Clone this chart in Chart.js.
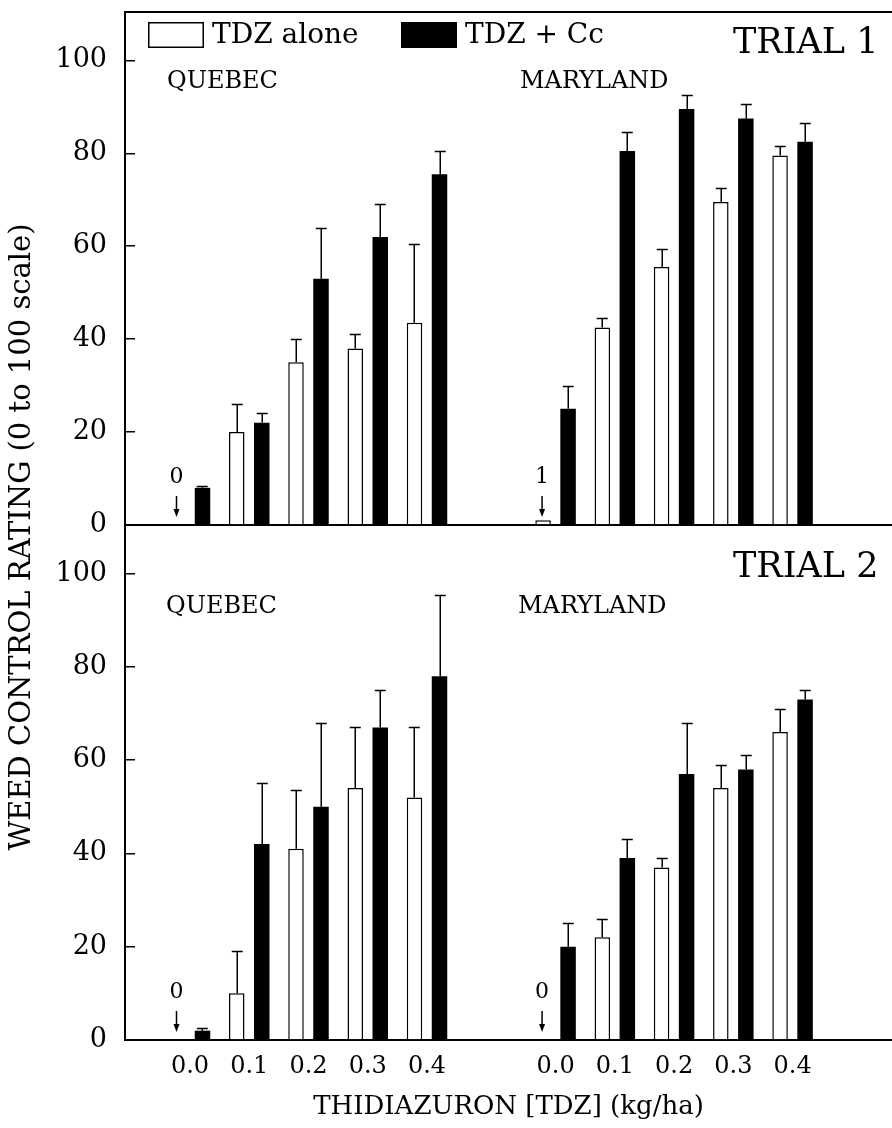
<!DOCTYPE html>
<html><head><meta charset="utf-8">
<script src="https://cdn.jsdelivr.net/npm/chart.js@4.4.0/dist/chart.umd.min.js"></script>
<style>
html,body{margin:0;padding:0;background:#fff;}
#wrap{position:relative;width:892px;height:1128px;overflow:hidden;background:#fff;}
canvas{position:absolute;left:0;top:0;}
</style></head><body>
<div id="wrap"><canvas id="c1" width="892" height="1128"></canvas><canvas id="c2" width="892" height="1128"></canvas></div>
<script>
// ---------- data ----------
const doses = ['0.0', '0.1', '0.2', '0.3', '0.4'];
const regions = ['QUEBEC', 'MARYLAND'];
const seriesNames = ['TDZ alone', 'TDZ + Cc'];
const trialNames = ['TRIAL 1', 'TRIAL 2'];
const yTickValues = [0, 20, 40, 60, 80, 100];
const xTitle = 'THIDIAZURON [TDZ] (kg/ha)';
const yTitle = 'WEED CONTROL RATING (0 to 100 scale)';

// Trial 1
const t1QuebecAlone   = [0, 20, 35, 38, 43.5];
const t1QuebecCc      = [8, 22, 53, 62, 75.5];
const t1MarylandAlone = [1, 42.5, 55.5, 69.5, 79.5];
const t1MarylandCc    = [25, 80.5, 89.5, 87.5, 82.5];
const t1QuebecAloneSE   = [0, 6, 5, 3, 17];
const t1QuebecCcSE      = [0.5, 2, 11, 7, 5];
const t1MarylandAloneSE = [0, 2, 4, 3, 2];
const t1MarylandCcSE    = [5, 4, 3, 3, 4];

// Trial 2
const t2QuebecAlone   = [0, 10, 41, 54, 52];
const t2QuebecCc      = [2, 42, 50, 67, 78];
const t2MarylandAlone = [0, 22, 37, 54, 66];
const t2MarylandCc    = [20, 39, 57, 58, 73];
const t2QuebecAloneSE   = [0, 9, 12.5, 13, 15];
const t2QuebecCcSE      = [0.5, 13, 18, 8, 17.5];
const t2MarylandAloneSE = [0, 4, 2, 5, 5];
const t2MarylandCcSE    = [5, 4, 11, 3, 2];

// ---------- layout constants ----------
const REGION_OFFSET = 6.17;   // x offset (in dose-steps) of the Maryland group
const X_MIN = -1.097, X_MAX = 11.848, Y_MAX = 110.4;
const FONT = "'DejaVu Serif', serif";

Chart.defaults.font.family = FONT;
Chart.defaults.color = '#000';

const xPositions = [];
const xTickLabels = [];
regions.forEach((r, ri) => doses.forEach((d, di) => { xPositions.push(di + ri * REGION_OFFSET); xTickLabels.push(d); }));

function points(arrs) {
  const out = [];
  arrs.forEach((a, ri) => a.forEach((v, di) => out.push({x: di + ri * REGION_OFFSET, y: v})));
  return out;
}

const decor = {
  id: 'decor',
  afterDatasetsDraw(chart, args, o) {
    const ctx = chart.ctx, ca = chart.chartArea, ys = chart.scales.y;
    ctx.save();
    // error bars
    ctx.strokeStyle = '#000'; ctx.lineWidth = 1.5;
    chart.data.datasets.forEach((ds, di) => {
      const meta = chart.getDatasetMeta(di);
      meta.data.forEach((bar, i) => {
        const se = ds.errors[i];
        if (!se) return;
        const v = ds.data[i].y;
        const yTop = Math.round(ys.getPixelForValue(v + se)) + 0.5;
        const yBase = ys.getPixelForValue(v);
        const bx = Math.round(bar.x) + 0.25;
        ctx.beginPath();
        ctx.moveTo(bx, yBase); ctx.lineTo(bx, yTop);
        ctx.moveTo(bx - 5.5, yTop); ctx.lineTo(bx + 5.5, yTop);
        ctx.stroke();
      });
    });
    // value markers for near-zero bars
    const zero = ys.getPixelForValue(0);
    const wmeta = chart.getDatasetMeta(0);
    const wds = chart.data.datasets[0];
    ctx.fillStyle = '#000';
    wds.data.forEach((p, i) => {
      if (i % doses.length !== 0 || p.y > 1) return;
      const bx = wmeta.data[i].x - 1;
      ctx.font = '22px ' + FONT;
      ctx.textAlign = 'center'; ctx.textBaseline = 'alphabetic';
      ctx.fillText(String(p.y), bx, zero - 42);
      ctx.lineWidth = 1.5;
      ctx.beginPath(); ctx.moveTo(bx, zero - 29); ctx.lineTo(bx, zero - 14); ctx.stroke();
      ctx.beginPath(); ctx.moveTo(bx - 3, zero - 16); ctx.lineTo(bx + 3, zero - 16); ctx.lineTo(bx, zero - 8); ctx.closePath(); ctx.fill();
    });
    // region labels
    ctx.font = '24px ' + FONT;
    ctx.textAlign = 'left'; ctx.textBaseline = 'alphabetic';
    regions.forEach((r, ri) => ctx.fillText(r, ca.left + o.regionX[ri], ca.top + o.regionBaseline));
    // trial label
    ctx.font = '35px ' + FONT;
    ctx.fillText(o.trial, ca.left + 608, ca.top + o.trialBaseline);
    // legend
    if (o.legend) {
      chart.data.datasets.forEach((ds, di) => {
        const lx = ca.left + [23, 276][di], ly = ca.top + 10;
        ctx.fillStyle = ds.backgroundColor;
        ctx.fillRect(lx, ly, 56, 26);
        if (ds.borderWidth) { ctx.lineWidth = 1.5; ctx.strokeStyle = '#000'; ctx.strokeRect(lx + 0.75, ly + 0.75, 54.5, 24.5); }
        ctx.fillStyle = '#000';
        ctx.font = '28px ' + FONT;
        ctx.fillText(ds.label, lx + 64, ca.top + 31);
      });
    }
    // top frame line
    if (o.topLine) {
      ctx.lineWidth = 2; ctx.strokeStyle = '#000';
      ctx.beginPath(); ctx.moveTo(ca.left, ca.top); ctx.lineTo(ca.right, ca.top); ctx.stroke();
    }
    // shared y title
    if (o.yTitle) {
      ctx.save();
      ctx.translate(22, 537); ctx.rotate(-Math.PI / 2);
      ctx.font = '29px ' + FONT; ctx.textAlign = 'center'; ctx.textBaseline = 'middle';
      ctx.fillStyle = '#000';
      ctx.fillText(o.yTitle, 0, 0);
      ctx.restore();
    }
    ctx.restore();
  }
};

function makeChart(id, t, alone, cc, aloneSE, ccSE, opt) {
  const chart = new Chart(document.getElementById(id), {
    type: 'bar',
    data: {
      datasets: [
        {label: seriesNames[0], data: points(alone), errors: [].concat(...aloneSE), backgroundColor: '#fff', borderColor: '#000', borderWidth: 1.5, borderSkipped: 'start'},
        {label: seriesNames[1], data: points(cc), errors: [].concat(...ccSE), backgroundColor: '#000', borderWidth: 0}
      ]
    },
    options: {
      responsive: false, animation: false, devicePixelRatio: 1, events: [],
      categoryPercentage: 0.844, barPercentage: 0.62,
      layout: {padding: Object.assign({}, opt.padding)},
      plugins: {legend: {display: false}, tooltip: {enabled: false},
        decor: {trial: trialNames[t], regionX: opt.regionX, regionBaseline: opt.regionBaseline, trialBaseline: opt.trialBaseline, legend: opt.legend, topLine: opt.topLine, yTitle: opt.yTitle}},
      scales: {
        x: {
          type: 'linear', min: X_MIN, max: X_MAX, offset: false,
          afterBuildTicks: s => { s.ticks = xPositions.map(v => ({value: v})); },
          afterFit: s => { s.height = opt.xHeight; s.paddingLeft = 0; s.paddingRight = 0; },
          ticks: {display: opt.xLabels, autoSkip: false, maxRotation: 0, minRotation: 0, padding: 12,
                  font: {size: 24}, color: '#000', callback: (v, i) => xTickLabels[i]},
          grid: {display: false, drawTicks: false},
          border: {display: true, color: '#000', width: 2},
          title: {display: opt.xLabels, text: xTitle, font: {size: 26}, color: '#000', padding: {top: 0, bottom: 5}}
        },
        y: {
          type: 'linear', min: 0, max: Y_MAX,
          afterBuildTicks: s => { s.ticks = yTickValues.map(v => ({value: v})); },
          afterFit: s => { s.width = 125; s.paddingTop = 0; s.paddingBottom = 0; },
          ticks: {font: {size: 27}, color: '#000', padding: 28, callback: v => String(v)},
          grid: {display: true, drawOnChartArea: false, drawTicks: true, tickLength: -10, color: '#000', lineWidth: 1.5},
          border: {display: true, color: '#000', width: 2}
        }
      }
    },
    plugins: [decor]
  });
  // make sure the plot area sits exactly where intended
  const dTop = chart.chartArea.top - opt.areaTop;
  const dBot = chart.chartArea.bottom - opt.areaBottom;
  if (Math.abs(dTop) > 0.5 || Math.abs(dBot) > 0.5) {
    chart.options.layout.padding.top -= dTop;
    chart.options.layout.padding.bottom += dBot;
    chart.update();
  }
  return chart;
}

makeChart('c1', 0, [t1QuebecAlone, t1MarylandAlone], [t1QuebecCc, t1MarylandCc], [t1QuebecAloneSE, t1MarylandAloneSE], [t1QuebecCcSE, t1MarylandCcSE],
  {padding: {top: 12, bottom: 603, left: 0, right: 0}, areaTop: 12, areaBottom: 525, xHeight: 0, xLabels: false, regionX: [42, 395], regionBaseline: 75.5, trialBaseline: 41, legend: true, topLine: true});
makeChart('c2', 1, [t2QuebecAlone, t2MarylandAlone], [t2QuebecCc, t2MarylandCc], [t2QuebecAloneSE, t2MarylandAloneSE], [t2QuebecCcSE, t2MarylandCcSE],
  {padding: {top: 525, bottom: 0, left: 0, right: 0}, areaTop: 525, areaBottom: 1040, xHeight: 88, xLabels: true, regionX: [41, 393], regionBaseline: 88, trialBaseline: 52, legend: false, topLine: false, yTitle: yTitle});
</script>
</body></html>
